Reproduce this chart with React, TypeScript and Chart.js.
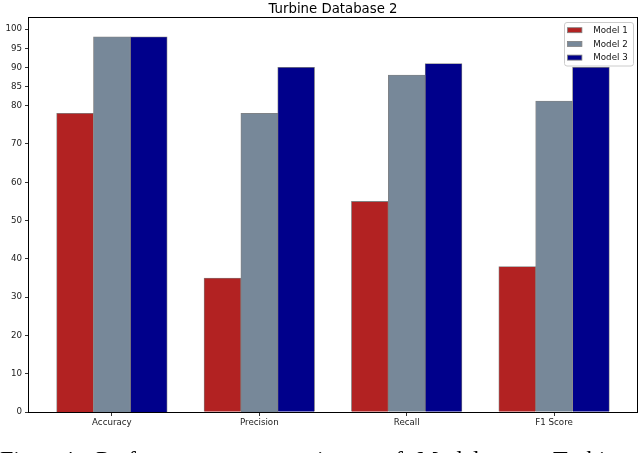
import React, { useEffect, useRef } from "react";
import { Chart, registerables } from "chart.js";

Chart.register(...registerables);

const categories = ["Accuracy", "Precision", "Recall", "F1 Score"];
const modelNames = ["Model 1", "Model 2", "Model 3"];
const model1 = [78, 35, 55, 38];
const model2 = [98, 78, 88, 81.2];
const model3 = [98, 90, 91, 90];
const yTicks = [0, 10, 20, 30, 40, 50, 60, 70, 80, 85, 90, 95, 100];
const titleText = "Turbine Database 2";
const captionWords = ["Fig.", "4:", "Performance", "comparison", "of", "Models", "on", "Turbine"];

// layout / style constants
const captionLefts = [0, 62, 96, 245, 383, 417, 509, 553];
const barOffsets = [-0.25, 0, 0.25];
const colors = ["rgb(178,34,34)", "rgb(119,136,153)", "rgb(0,0,139)"];
const FONT = "DejaVu Sans";
const SMALL = 8.7;

const framePlugin = {
  id: "frame",
  afterDatasetsDraw(chart: any) {
    const { ctx, chartArea: a } = chart;
    ctx.save();
    ctx.strokeStyle = "#000";
    ctx.lineWidth = 1;
    ctx.strokeRect(Math.round(a.left) - 0.5, Math.round(a.top) - 0.5, Math.round(a.right - a.left) + 1, Math.round(a.bottom - a.top) + 1);
    ctx.restore();
  },
};

const titlePlugin = {
  id: "mplTitle",
  afterDraw(chart: any) {
    const { ctx, chartArea: a } = chart;
    ctx.save();
    ctx.fillStyle = "#000";
    ctx.font = `13.3px '${FONT}'`;
    ctx.textAlign = "center";
    ctx.textBaseline = "alphabetic";
    ctx.fillText(titleText, (a.left + a.right) / 2, 13);
    ctx.restore();
  },
};

const legendPlugin = {
  id: "mplLegend",
  afterDraw(chart: any) {
    const { ctx, chartArea: a } = chart;
    const ds = chart.data.datasets;
    const right = a.right - 3.5;
    const w = 69;
    const x0 = right - w;
    const y0 = a.top + 4.5;
    const h = 43.5;
    const r = 2.5;
    ctx.save();
    ctx.beginPath();
    ctx.moveTo(x0 + r, y0);
    ctx.lineTo(x0 + w - r, y0);
    ctx.arcTo(x0 + w, y0, x0 + w, y0 + r, r);
    ctx.lineTo(x0 + w, y0 + h - r);
    ctx.arcTo(x0 + w, y0 + h, x0 + w - r, y0 + h, r);
    ctx.lineTo(x0 + r, y0 + h);
    ctx.arcTo(x0, y0 + h, x0, y0 + h - r, r);
    ctx.lineTo(x0, y0 + r);
    ctx.arcTo(x0, y0, x0 + r, y0, r);
    ctx.closePath();
    ctx.fillStyle = "rgba(255,255,255,0.8)";
    ctx.fill();
    ctx.strokeStyle = "#cccccc";
    ctx.lineWidth = 1;
    ctx.stroke();
    ds.forEach((d: any, i: number) => {
      const cy = y0 + 7.7 + i * 13.7;
      ctx.fillStyle = d.backgroundColor;
      ctx.fillRect(x0 + 3, cy - 2.5, 14.4, 5);
      ctx.strokeStyle = "#808080";
      ctx.lineWidth = 0.8;
      ctx.strokeRect(x0 + 3, cy - 2.5, 14.4, 5);
      ctx.fillStyle = "#111";
      ctx.font = `${SMALL}px '${FONT}'`;
      ctx.textAlign = "left";
      ctx.textBaseline = "middle";
      ctx.fillText(d.label, x0 + 28.8, cy + 0.5);
    });
    ctx.restore();
  },
};

export default function App() {
  const ref = useRef<HTMLCanvasElement | null>(null);

  useEffect(() => {
    if (!ref.current) return;
    const series = [model1, model2, model3];
    const chart = new Chart(ref.current, {
      type: "bar",
      data: {
        datasets: series.map((vals, k) => ({
          label: modelNames[k],
          data: vals.map((v, i) => ({ x: i + barOffsets[k], y: v })),
          backgroundColor: colors[k],
          borderColor: "#808080",
          borderWidth: 0.8,
          grouped: false,
          barPercentage: 1,
          categoryPercentage: 1,
        })),
      },
      options: {
        responsive: false,
        animation: false,
        layout: { padding: { top: 18, right: 3, left: 0, bottom: 0 } },
        plugins: {
          legend: { display: false },
          title: { display: false },
          tooltip: { enabled: false },
        },
        scales: {
          x: {
            type: "linear",
            min: -0.5625,
            max: 3.5625,
            offset: false,
            afterBuildTicks: (s: any) => {
              s.ticks = categories.map((_, i) => ({ value: i }));
            },
            afterFit: (s: any) => {
              s.height = 41;
            },
            ticks: {
              autoSkip: false,
              maxRotation: 0,
              padding: 2,
              color: "#222",
              font: { family: FONT, size: SMALL },
              callback: (_v: any, i: number) => categories[i] ?? "",
            },
            grid: { offset: false, drawOnChartArea: false, drawTicks: true, tickLength: 4, tickColor: "#000", lineWidth: 0.8 },
            border: { display: false },
          },
          y: {
            type: "linear",
            min: 0,
            max: 102.9,
            afterBuildTicks: (s: any) => {
              s.ticks = yTicks.map((v) => ({ value: v }));
            },
            afterFit: (s: any) => {
              s.width = 29;
            },
            ticks: {
              autoSkip: false,
              padding: 3,
              color: "#222",
              font: { family: FONT, size: SMALL },
              callback: (v: any) => String(v),
            },
            grid: { drawOnChartArea: false, drawTicks: true, tickLength: 4, tickColor: "#000", lineWidth: 0.8 },
            border: { display: false },
          },
        },
      },
      plugins: [framePlugin, titlePlugin, legendPlugin],
    } as any);
    return () => chart.destroy();
  }, []);

  return (
    <div
      style={{
        position: "fixed",
        left: 0,
        top: 0,
        width: 640,
        height: 453,
        overflow: "hidden",
        background: "#fff",
      }}
    >
      <canvas ref={ref} width={640} height={453} style={{ display: "block", width: 640, height: 453 }} />
      {captionWords.map((w, i) => (
        <div
          key={i}
          style={{
            position: "absolute",
            left: captionLefts[i],
            top: 447,
            fontFamily: "'Liberation Serif', serif",
            fontSize: 24,
            lineHeight: "24px",
            color: "#000",
            whiteSpace: "nowrap",
          }}
        >
          {w}
        </div>
      ))}
    </div>
  );
}
